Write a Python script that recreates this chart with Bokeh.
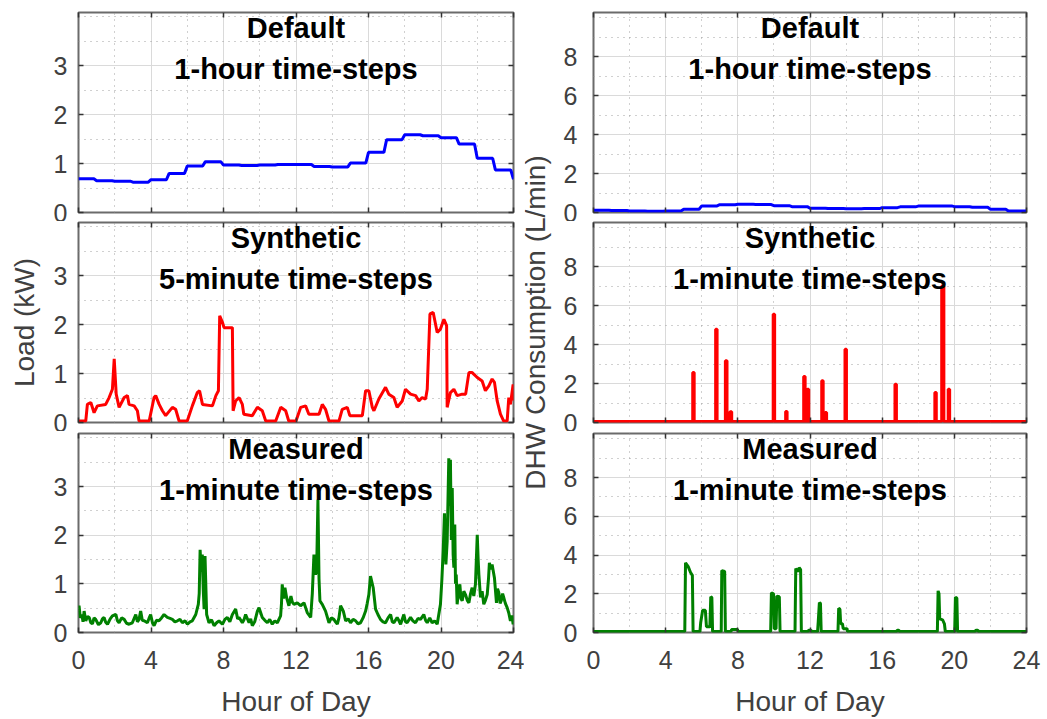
from bokeh.plotting import figure
from bokeh.models import Range1d, FixedTicker, LinearAxis, Label
from bokeh.layouts import row, column
from bokeh.embed import file_html
from bokeh.resources import INLINE

# ---------------- data ----------------
HOURS = list(range(25))
load_default_kw = [0.69, 0.65, 0.64, 0.62, 0.67, 0.80, 0.95, 1.04, 0.97, 0.96, 0.97, 0.98,
                   0.98, 0.94, 0.93, 1.01, 1.23, 1.49, 1.59, 1.57, 1.53, 1.40, 1.11, 0.87, 0.68]
dhw_default_lpm = [0.12, 0.10, 0.08, 0.07, 0.08, 0.17, 0.34, 0.40, 0.42, 0.41, 0.35, 0.30,
                   0.22, 0.20, 0.19, 0.20, 0.25, 0.29, 0.33, 0.34, 0.30, 0.27, 0.17, 0.08, 0.08]

load_syn_h = [0.0, 0.4, 0.49, 0.68, 0.86, 1.04, 1.5, 1.69, 1.87, 1.97, 2.08, 2.24, 2.52, 2.7, 2.79,
              3.07, 3.25, 3.34, 3.9, 4.17, 4.26, 4.45, 4.63, 4.81, 5.18, 5.36, 5.55, 6.0, 6.28,
              6.55, 6.68, 6.84, 7.39, 7.58, 7.72, 7.79, 7.94, 8.03, 8.49, 8.53, 8.67, 8.86, 9.04,
              9.12, 9.59, 9.87, 10.14, 10.33, 10.88, 11.16, 11.43, 11.6, 12.0, 12.26, 12.53,
              12.71, 13.27, 13.45, 13.63, 13.82, 14.37, 14.55, 14.83, 14.97, 15.66, 15.84, 16.02,
              16.21, 16.3, 16.57, 16.94, 17.12, 17.4, 17.58, 17.86, 18.04, 18.32, 18.6, 18.78,
              18.96, 19.15, 19.24, 19.39, 19.57, 19.79, 19.97, 20.16, 20.31, 20.34, 20.52, 20.71,
              20.89, 21.17, 21.36, 21.54, 21.72, 22.0, 22.27, 22.45, 22.64, 22.82, 22.95, 23.1,
              23.28, 23.46, 23.65, 23.74, 23.83, 23.98, 24.0]
load_syn_kw = [0.03, 0.03, 0.37, 0.41, 0.2, 0.34, 0.37, 0.51, 0.68, 1.30, 0.58, 0.31, 0.51, 0.55, 0.37,
               0.34, 0.24, 0.03, 0.03, 0.51, 0.55, 0.37, 0.24, 0.14, 0.31, 0.27, 0.03, 0.03, 0.34,
               0.61, 0.65, 0.37, 0.34, 0.55, 0.65, 2.18, 2.05, 1.94, 1.94, 0.24, 0.44, 0.51, 0.37,
               0.17, 0.14, 0.31, 0.24, 0.03, 0.03, 0.31, 0.24, 0.03, 0.03, 0.31, 0.34,
               0.17, 0.17, 0.37, 0.27, 0.03, 0.03, 0.27, 0.31, 0.14, 0.14, 0.65, 0.65,
               0.31, 0.24, 0.48, 0.72, 0.58, 0.51, 0.31, 0.44, 0.68, 0.58, 0.55, 0.44,
               0.51, 0.48, 0.68, 2.22, 2.25, 1.84, 1.91, 2.11, 1.98, 0.31, 0.61, 0.68,
               0.55, 0.58, 0.58, 1.02, 1.02, 0.92, 0.85, 0.65, 0.75, 0.89, 0.82, 0.44,
               0.17, 0.03, 0.03, 0.51, 0.37, 0.78, 0.45]

load_meas_h = [0.0, 0.03, 0.10, 0.18, 0.25, 0.31, 0.40, 0.50, 0.59, 0.68, 0.77, 0.86, 0.95, 1.10,
               1.23, 1.32, 1.41, 1.50, 1.60, 1.75, 1.87, 2.06, 2.15, 2.24, 2.38, 2.52, 2.65, 2.79,
               2.97, 3.16, 3.25, 3.34, 3.43, 3.52, 3.62, 3.80, 3.90, 3.98, 4.08, 4.17, 4.30, 4.44,
               4.58, 4.72, 4.90, 5.05, 5.18, 5.32, 5.46, 5.60, 5.73, 5.88, 6.01, 6.15, 6.28, 6.47,
               6.61, 6.66, 6.71, 6.77, 6.83, 6.88, 6.93, 6.98, 7.07, 7.20, 7.34, 7.48, 7.62, 7.75,
               7.94, 8.08, 8.21, 8.35, 8.49, 8.67, 8.78, 8.86, 9.04, 9.13, 9.22, 9.41, 9.50, 9.59,
               9.72, 9.87, 9.96, 10.14, 10.28, 10.42, 10.55, 10.69, 10.83, 10.97, 11.15, 11.20,
               11.24, 11.31, 11.39, 11.48, 11.61, 11.72, 11.80, 11.89, 12.07, 12.25, 12.44, 12.62,
               12.81, 12.90, 12.99, 13.08, 13.14, 13.21, 13.27, 13.32, 13.45, 13.63, 13.82, 13.95,
               14.09, 14.18, 14.28, 14.37, 14.46, 14.61, 14.74, 14.88, 15.01, 15.15, 15.29, 15.42,
               15.56, 15.70, 15.84, 15.93, 16.02, 16.11, 16.26, 16.39, 16.52, 16.66, 16.80, 16.94,
               17.08, 17.22, 17.31, 17.40, 17.58, 17.68, 17.77, 17.95, 18.04, 18.13, 18.32, 18.45,
               18.59, 18.73, 18.87, 19.05, 19.15, 19.24, 19.38, 19.51, 19.65, 19.79, 19.97, 20.05,
               20.12, 20.19, 20.27, 20.34, 20.43, 20.47, 20.52, 20.57, 20.62, 20.67, 20.71, 20.76,
               20.80, 20.84, 20.89, 20.97, 21.04, 21.10, 21.17, 21.26, 21.35, 21.45, 21.54, 21.63,
               21.72, 21.81, 21.90, 22.00, 22.05, 22.09, 22.18, 22.27, 22.36, 22.45, 22.55, 22.62,
               22.67, 22.75, 22.82, 22.95, 23.06, 23.12, 23.19, 23.26, 23.32, 23.40, 23.46, 23.55,
               23.65, 23.74, 23.83, 23.92, 23.98, 24.0]
load_meas_kw = [0.45, 0.55, 0.30, 0.37, 0.22, 0.44, 0.24, 0.33, 0.31, 0.20, 0.18, 0.30, 0.27, 0.16,
                0.20, 0.28, 0.31, 0.21, 0.17, 0.28, 0.34, 0.37, 0.24, 0.20, 0.30, 0.27, 0.19, 0.17,
                0.20, 0.37, 0.22, 0.27, 0.44, 0.25, 0.24, 0.20, 0.30, 0.37, 0.20, 0.14, 0.25, 0.24,
                0.30, 0.37, 0.31, 0.29, 0.27, 0.22, 0.24, 0.27, 0.20, 0.24, 0.17, 0.22, 0.24, 0.37,
                0.58, 0.80, 1.70, 1.25, 1.60, 0.90, 0.48, 1.57, 0.37, 0.20, 0.26, 0.14, 0.20, 0.24,
                0.17, 0.27, 0.31, 0.22, 0.37, 0.48, 0.28, 0.31, 0.20, 0.26, 0.37, 0.20, 0.28, 0.14,
                0.22, 0.44, 0.51, 0.31, 0.25, 0.20, 0.27, 0.17, 0.24, 0.20, 0.34, 0.60,
                0.99, 0.70, 0.92, 0.72, 0.55, 0.75, 0.62, 0.58, 0.61, 0.55, 0.61, 0.41,
                0.31, 0.80, 1.60, 1.19, 1.30, 2.73, 1.10, 0.65, 0.58, 0.44, 0.20, 0.30,
                0.27, 0.22, 0.17, 0.30, 0.55, 0.44, 0.24, 0.28, 0.20, 0.27, 0.24, 0.18,
                0.20, 0.30, 0.44, 0.60, 0.78, 1.16, 0.92, 0.48, 0.37, 0.27, 0.22, 0.20,
                0.30, 0.37, 0.22, 0.20, 0.31, 0.24, 0.17, 0.37, 0.22, 0.20, 0.31, 0.24,
                0.20, 0.29, 0.27, 0.37, 0.25, 0.20, 0.30, 0.20, 0.24, 0.17, 0.58, 1.10,
                1.67, 2.45, 1.40, 1.87, 3.58, 2.60, 3.55, 1.90, 2.97, 1.60, 1.33, 2.22,
                1.00, 1.19, 0.58, 0.85, 0.99, 0.70, 0.65, 0.85, 0.78, 0.66, 0.61, 0.80,
                0.92, 0.75, 0.99, 2.01, 1.50, 1.19, 0.72, 0.85, 0.58, 0.66, 0.78, 1.10,
                1.43, 1.30, 1.40, 1.12, 0.61, 0.90, 0.82, 0.60, 0.65, 0.80, 0.72, 0.60,
                0.51, 0.40, 0.24, 0.35, 0.17, 0.25]

dhw_syn_start = [5.50, 6.77, 7.31, 7.56, 9.96, 10.65, 11.65, 11.85, 12.65, 12.84, 13.94, 16.71, 18.92, 19.30, 19.66]
dhw_syn_end = [5.58, 6.85, 7.40, 7.66, 10.04, 10.73, 11.73, 11.93, 12.73, 12.92, 14.02, 16.79, 19.00, 19.42, 19.74]
dhw_syn_lpm = [2.57, 4.79, 3.17, 0.55, 5.56, 0.56, 2.36, 1.71, 2.14, 0.51, 3.77, 1.97, 1.54, 7.02, 1.71]

dhw_meas_h = [0.0, 5.06, 5.10, 5.25, 5.38, 5.48, 5.52, 5.90, 5.94, 6.05, 6.20, 6.26, 6.45, 6.50, 6.56,
              6.60, 7.08, 7.11, 7.27, 7.31, 7.62, 7.65, 7.98, 8.02, 9.82, 9.86, 9.98, 10.02, 10.12,
              10.16, 10.30, 10.34, 11.17, 11.21, 11.33, 11.40, 11.48, 11.52, 11.90, 11.93, 12.05,
              12.08, 12.42, 12.46, 12.52, 12.58, 12.62, 13.55, 13.59, 13.66, 13.70, 13.80, 13.84,
              14.05, 14.08, 16.80, 16.84, 16.92, 16.95, 19.06, 19.10, 19.15, 19.19, 19.35, 19.45,
              19.50, 20.02, 20.06, 20.14, 20.18, 21.15, 21.20, 21.30, 21.33, 24.0]
dhw_meas_lpm = [0.05, 0.05, 3.60, 3.40, 3.10, 2.95, 0.05, 0.05, 0.50, 1.15, 1.15, 0.30, 0.30, 1.85, 1.80,
                0.05, 0.05, 3.20, 3.15, 0.05, 0.05, 0.15, 0.15, 0.05, 0.05, 2.05, 2.00, 0.20, 0.20,
                1.88, 1.85, 0.05, 0.05, 3.30, 3.15, 3.35, 3.25, 0.05, 0.05, 0.12, 0.12,
                0.05, 0.05, 0.60, 1.55, 1.50, 0.05, 0.05, 1.25, 1.20, 0.45, 0.45, 0.20,
                0.20, 0.05, 0.05, 0.12, 0.12, 0.05, 0.05, 2.15, 2.00, 0.70, 0.65, 0.45,
                0.05, 0.05, 1.82, 1.78, 0.05, 0.05, 0.12, 0.12, 0.05, 0.05]

X_TICKS = [0, 4, 8, 12, 16, 20, 24]
X_MINOR = [2, 6, 10, 14, 18, 22]
LOAD_TICKS = [0, 1, 2, 3]
LOAD_MINOR = [0.5, 1.5, 2.5, 3.5, 4.0]
DHW_TICKS = [0, 2, 4, 6, 8]
DHW_MINOR = [1, 3, 5, 7, 9, 10]
TITLES = [("Default", "1-hour time-steps"), ("Synthetic", "5-minute time-steps"),
          ("Synthetic", "1-minute time-steps"), ("Measured", "1-minute time-steps")]
X_LABEL = "Hour of Day"
LOAD_LABEL = "Load (kW)"
DHW_LABEL = "DHW Consumption (L/min)"

FONT = "Liberation Sans"
TXT = "#404040"
FH = 200  # frame height (px) used for title offsets
# let tick labels that sit on a panel edge spill into the neighbouring gap
OVERFLOW_CSS = ":host { overflow: visible !important; } * { overflow: visible !important; }"


def hourly_ramp(hours, vals, frac=0.85):
    xs, ys = [], []
    for i in range(len(hours) - 1):
        xs += [hours[i], hours[i] + frac * (hours[i + 1] - hours[i])]
        ys += [vals[i], vals[i]]
    xs.append(hours[-1]); ys.append(vals[-1])
    return xs, ys


def spikes(starts, ends, heights, base=0.05):
    xs, ys = [0.0], [base]
    for s, e, h in zip(starts, ends, heights):
        xs += [s, s, e, e]
        ys += [base, h, h, base]
    xs.append(24.0); ys.append(base)
    return xs, ys


def style_axis(ax, labels=True, standoff=10):
    ax.axis_line_color = None
    ax.major_tick_in = 5
    ax.major_tick_out = 0
    ax.minor_tick_in = 0
    ax.minor_tick_out = 0
    ax.major_tick_line_color = "#333333"
    ax.major_tick_line_width = 1.5
    if labels:
        ax.major_label_text_font = FONT
        ax.major_label_text_font_size = "25px"
        ax.major_label_text_color = TXT
        ax.major_label_standoff = standoff
    else:
        ax.major_label_text_font_size = "1px"
        ax.major_label_text_color = None
        ax.major_label_standoff = 0


def make_fig(width, height, mbl, mbr, mbt, mbb, ymax, yt, ym, xlabels, ylabel, ystand, titles):
    p = figure(width=width, height=height, x_range=Range1d(0, 24), y_range=Range1d(0, ymax),
               output_backend="svg", toolbar_location=None, stylesheets=[OVERFLOW_CSS],
               min_border_left=mbl, min_border_right=mbr, min_border_top=mbt, min_border_bottom=mbb)
    p.background_fill_color = "white"
    p.border_fill_color = None
    p.outline_line_color = "#6b6b6b"
    p.outline_line_width = 2
    xtick = FixedTicker(ticks=X_TICKS, minor_ticks=X_MINOR)
    ytick = FixedTicker(ticks=yt, minor_ticks=ym)
    p.xaxis.ticker = xtick
    p.yaxis.ticker = ytick
    style_axis(p.xaxis[0], labels=xlabels, standoff=18)
    style_axis(p.yaxis[0], labels=True, standoff=ystand)
    if xlabels:
        p.xaxis.axis_label = X_LABEL
        p.xaxis.axis_label_standoff = 14
    if ylabel:
        p.yaxis.axis_label = ylabel
        p.yaxis.axis_label_standoff = 11
    for ax in list(p.xaxis) + list(p.yaxis):
        ax.axis_label_text_font = FONT
        ax.axis_label_text_font_size = "28px"
        ax.axis_label_text_font_style = "normal"
        ax.axis_label_text_color = TXT
    top = LinearAxis(ticker=xtick)
    style_axis(top, labels=False)
    p.add_layout(top, "above")
    right = LinearAxis(ticker=ytick)
    style_axis(right, labels=False)
    p.add_layout(right, "right")
    for g in (p.xgrid[0], p.ygrid[0]):
        g.grid_line_color = "#dadada"
        g.grid_line_width = 1
        g.minor_grid_line_color = "#a0a0a0"
        g.minor_grid_line_width = 1
        g.minor_grid_line_dash = "1 5"
    t1, t2 = titles
    for txt, off in ((t1, 15.5), (t2, 56.5)):
        p.add_layout(Label(x=12, y=ymax * (1 - off / FH), text=txt, text_align="center",
                           text_baseline="middle", text_font=FONT, text_font_size="29px",
                           text_font_style="bold", text_color="black"))
    return p


LW = 3
L_W, S_W, R_W = 524, 36, 481
LOAD_MAX, DHW_MAX = 4.09, 10.28
H1, H2, H3 = 221, 210, 288

# left column
p1 = make_fig(L_W, H1, 78, 11, 12, 9, LOAD_MAX, LOAD_TICKS, LOAD_MINOR, False, None, 11, TITLES[0])
x, y = hourly_ramp(HOURS, load_default_kw)
p1.line(x, y, line_width=LW, color="#0000ff")

p2 = make_fig(L_W, H2, 78, 11, 1, 9, LOAD_MAX, LOAD_TICKS, LOAD_MINOR, False, LOAD_LABEL, 11, TITLES[1])
p2.line(load_syn_h, load_syn_kw, line_width=LW, color="#ff0000")

p3 = make_fig(L_W, H3, 78, 11, 2, 87, LOAD_MAX, LOAD_TICKS, LOAD_MINOR, True, None, 11, TITLES[3])
p3.line(load_meas_h, load_meas_kw, line_width=LW, color="#008000")

# narrow strip carrying the right column's y-axis title (spans all three rows)
TOTAL_H = H1 + H2 + H3
MID_CENTER = H1 + 1 + 100
lab = figure(width=S_W, height=TOTAL_H, x_range=Range1d(0, S_W), y_range=Range1d(0, TOTAL_H),
             output_backend="svg", toolbar_location=None, x_axis_type=None, y_axis_type=None,
             min_border=0, stylesheets=[OVERFLOW_CSS])
lab.outline_line_color = None
lab.border_fill_color = None
lab.background_fill_color = None
lab.grid.visible = False
lab.add_layout(Label(x=11, y=TOTAL_H - MID_CENTER, text=DHW_LABEL, angle=90, angle_units="deg",
                     text_align="center", text_baseline="middle", text_font=FONT,
                     text_font_size="28px", text_color=TXT))

# right column
q1 = make_fig(R_W, H1, 33, 15, 12, 9, DHW_MAX, DHW_TICKS, DHW_MINOR, False, None, 16, TITLES[0])
x, y = hourly_ramp(HOURS, dhw_default_lpm)
q1.line(x, y, line_width=LW, color="#0000ff")

q2 = make_fig(R_W, H2, 33, 15, 1, 9, DHW_MAX, DHW_TICKS, DHW_MINOR, False, None, 16, TITLES[2])
x, y = spikes(dhw_syn_start, dhw_syn_end, dhw_syn_lpm)
q2.line(x, y, line_width=LW, color="#ff0000")

q3 = make_fig(R_W, H3, 33, 15, 2, 87, DHW_MAX, DHW_TICKS, DHW_MINOR, True, None, 16, TITLES[3])
q3.line(dhw_meas_h, dhw_meas_lpm, line_width=LW, color="#008000")

layout = row(column(p1, p2, p3, stylesheets=[OVERFLOW_CSS]), lab,
             column(q1, q2, q3, stylesheets=[OVERFLOW_CSS]), stylesheets=[OVERFLOW_CSS])
open("out.html", "w").write(file_html(layout, INLINE))
